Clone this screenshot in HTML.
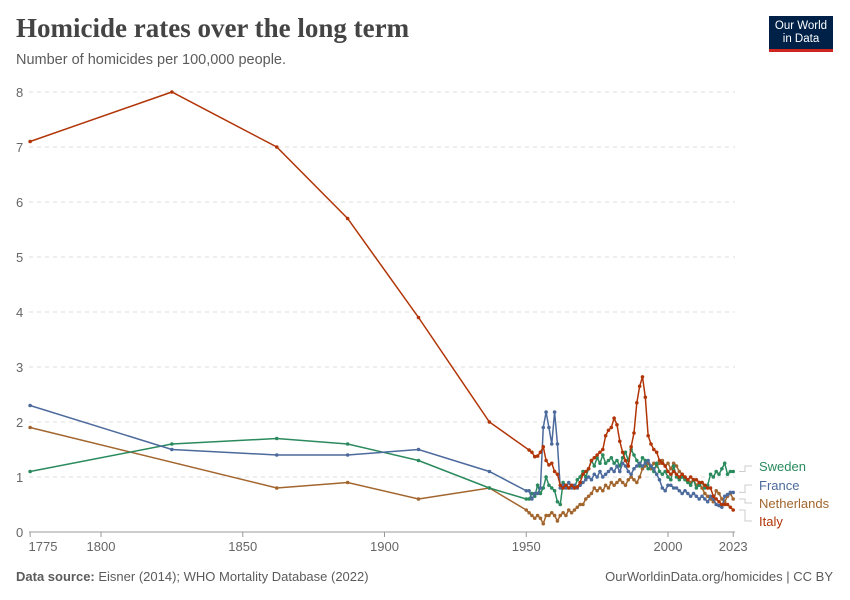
<!DOCTYPE html>
<html><head><meta charset="utf-8"><style>
body{margin:0;background:#fff;font-family:"Liberation Sans",sans-serif;}
#wrap{position:relative;width:850px;height:600px;overflow:hidden;}
.t{position:absolute;white-space:nowrap;}
</style></head><body><div id="wrap">
<div class="t" style="left:16px;top:13px;font-family:'Liberation Serif',serif;font-size:27px;font-weight:bold;color:#444;">Homicide rates over the long term</div>
<div class="t" style="left:16px;top:52px;font-size:14.5px;color:#5b5b5b;">Number of homicides per 100,000 people.</div>
<div style="position:absolute;left:769px;top:16px;width:64px;height:36px;background:#002147;border-bottom:3px solid #ce261e;color:#fff;font-size:11.5px;line-height:13px;text-align:center;padding-top:4px;box-sizing:border-box;">Our World<br>in Data</div>
<svg id="chart" width="850" height="600" style="position:absolute;left:0;top:0"></svg>
<div class="t" style="left:16px;top:569px;font-size:13px;color:#5b5b5b;"><b>Data source:</b> Eisner (2014); WHO Mortality Database (2022)</div>
<div class="t" style="right:17px;top:569px;font-size:13px;color:#5b5b5b;">OurWorldinData.org/homicides | CC BY</div>
</div>
<script>
const histYears=[1775,1825,1862,1887,1912,1937];
const italyHist=[7.1,8.0,7.0,5.7,3.9,2.0];
const swedenHist=[1.1,1.6,1.7,1.6,1.3,0.8];
const franceHist=[2.3,1.5,1.4,1.4,1.5,1.1];
const nethHist=[1.9,null,0.8,0.9,0.6,0.8];
const italyAnnual=[null,1.49,1.45,1.37,1.38,1.45,1.55,1.3,1.22,1.25,1.1,1.05,0.85,0.8,0.85,0.8,0.85,0.8,0.82,0.9,1.05,1.1,1.15,1.3,1.35,1.4,1.45,1.5,1.75,1.85,1.9,2.07,1.95,1.65,1.45,1.3,1.2,1.55,1.8,2.35,2.65,2.82,2.45,1.75,1.6,1.5,1.45,1.3,1.25,1.2,1.1,1.05,1.1,1.05,1.0,1.05,1.0,0.95,1.0,0.95,0.95,0.9,0.9,0.85,0.8,0.8,0.65,0.6,0.55,0.5,0.5,0.5,0.45,0.4];
const franceAnnual=[0.75,0.75,0.6,0.7,0.7,0.8,1.9,2.18,1.9,1.6,2.18,1.6,0.8,0.85,0.8,0.9,0.8,0.85,0.8,0.85,0.9,0.95,1.0,0.95,1.05,1.0,1.1,1.0,1.05,1.1,1.15,1.1,1.2,1.1,1.25,1.2,1.1,1.05,1.15,1.2,1.25,1.2,1.25,1.3,1.2,1.15,1.05,0.95,0.8,0.75,0.85,0.85,0.8,0.8,0.75,0.7,0.75,0.7,0.65,0.7,0.65,0.6,0.65,0.6,0.55,0.65,0.6,0.5,0.48,0.45,0.65,0.68,0.72,0.72];
const swedenAnnual=[0.6,0.6,0.7,0.65,0.85,0.7,0.8,1.0,0.85,0.8,0.75,0.55,0.5,0.9,0.85,0.8,0.85,0.8,0.95,1.0,1.1,1.0,1.15,1.3,1.2,1.35,1.25,1.4,1.25,1.3,1.35,1.25,1.3,1.2,1.35,1.45,1.3,1.5,1.4,1.3,1.2,1.35,1.3,1.15,1.2,1.1,1.25,1.1,1.05,1.1,1.0,0.95,1.2,1.0,0.95,1.0,0.95,0.9,0.85,0.95,0.8,0.85,0.9,0.8,0.85,1.05,1.0,1.1,1.05,1.15,1.25,1.05,1.1,1.1];
const nethAnnual=[0.4,0.35,0.3,0.25,0.3,0.25,0.15,0.3,0.3,0.35,0.3,0.2,0.3,0.35,0.3,0.4,0.35,0.4,0.45,0.5,0.5,0.6,0.65,0.7,0.8,0.75,0.8,0.75,0.85,0.8,0.9,0.85,0.9,0.95,0.9,0.85,0.95,1.0,0.95,0.9,1.0,1.15,1.2,1.25,1.15,1.25,1.2,1.25,1.3,1.2,1.25,1.15,1.25,1.2,1.1,1.05,1.0,0.95,0.9,0.95,0.85,0.9,0.8,0.7,0.65,0.6,0.55,0.75,0.7,0.6,0.55,0.65,0.7,0.6];
const firstAnnualYear=1950;
const yTicks=[0,1,2,3,4,5,6,7,8];
const xTicks=[1775,1800,1850,1900,1950,2000,2023];

const svg=document.getElementById('chart');const NS='http://www.w3.org/2000/svg';
const x=y=>101+(y-1800)*2.835;
const yv=v=>532-v*55;
function el(t,a,p){const e=document.createElementNS(NS,t);for(const k in a)e.setAttribute(k,a[k]);(p||svg).appendChild(e);return e;}
yTicks.forEach(v=>{
 if(v>0){const g=el('line',{x1:29,x2:735,y1:yv(v),y2:yv(v),stroke:'#ddd','stroke-dasharray':'4,4'});
 
 }
 const t=el('text',{x:16,y:yv(v)+5,'font-size':13,fill:'#666','font-family':'Liberation Sans'});t.textContent=v;
 
 
});
const ax=el('line',{x1:29,x2:735,y1:532,y2:532,stroke:'#999'});


xTicks.forEach(yr=>{
 el('line',{x1:x(yr),x2:x(yr),y1:532,y2:537,stroke:'#999'});
 const lx=yr===1775?43:x(yr);
 const t=el('text',{x:lx,y:551,'font-size':13,fill:'#666','text-anchor':'middle','font-family':'Liberation Sans'});t.textContent=yr;
 
 
});
function pts(hist,ann){const p=[];histYears.forEach((yr,i)=>{if(hist[i]!=null)p.push([yr,hist[i]]);});ann.forEach((v,i)=>{if(v!=null)p.push([firstAnnualYear+i,v]);});return p;}
const series=[[nethHist,nethAnnual,'#a2652d','netherlands'],[swedenHist,swedenAnnual,'#2a8a5e','sweden'],[franceHist,franceAnnual,'#4c6a9c','france'],[italyHist,italyAnnual,'#b13507','italy']];
series.forEach(s=>{
 const p=pts(s[0],s[1]);
 const l=el('polyline',{points:p.map(q=>x(q[0])+','+yv(q[1])).join(' '),fill:'none',stroke:s[2],'stroke-width':1.5});
 
 
 p.forEach(q=>{const c=el('circle',{cx:x(q[0]),cy:yv(q[1]),r:1.8,fill:s[2]});
 
 });
});
const labels=[["Sweden",466,'#2a8a5e',swedenAnnual],["France",485,'#4c6a9c',franceAnnual],["Netherlands",503,'#a2652d',nethAnnual],["Italy",521,'#b13507',italyAnnual]];
labels.forEach(L=>{
 const ey=yv(L[3][L[3].length-1]);
 el('polyline',{points:`739,${ey} 745,${ey} 745,${L[1]} 752,${L[1]}`,fill:'none',stroke:'#ccc'});
 const t=el('text',{x:759,y:L[1]+5,'font-size':13,fill:L[2],'font-family':'Liberation Sans'});t.textContent=L[0];
 
 
});
</script></body></html>
